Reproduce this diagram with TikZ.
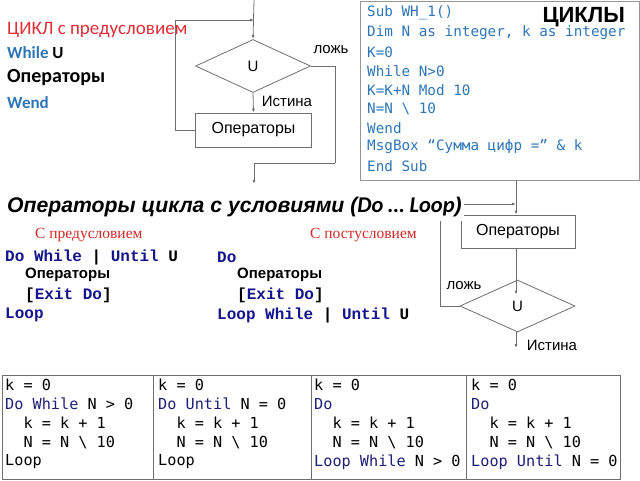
\documentclass[tikz,border=0pt]{standalone}
\usepackage{fontspec}
\usetikzlibrary{shapes.geometric,arrows.meta}
\newfontfamily\arialf{Liberation Sans}
\newfontfamily\calf{Carlito}
\newfontfamily\timesf{Liberation Serif}
\newfontfamily\courf{Liberation Mono}
\newfontfamily\consf{DejaVu Sans Mono}
\definecolor{codeblue}{RGB}{46,117,182}
\definecolor{navy}{RGB}{20,20,140}
\definecolor{tnavy}{RGB}{30,30,120}
\definecolor{redh}{RGB}{225,45,55}
\definecolor{redt}{RGB}{210,40,40}
\definecolor{linegray}{RGB}{110,110,110}
\definecolor{boxgray}{RGB}{150,150,150}
\begin{document}
\begin{tikzpicture}[x=1pt,y=-1pt,
  fl/.style={draw=linegray,line width=0.8pt},
  arr/.style={fl,-{Latex[length=4pt,width=3pt]}},
  opbox/.style={draw=linegray,line width=0.8pt,minimum width=116pt,minimum height=34pt,inner sep=0pt,
     font=\arialf\fontsize{16}{19}\selectfont},
  cond/.style={diamond,draw=linegray,line width=0.8pt,minimum width=115pt,minimum height=53pt,inner sep=0pt,
     font=\arialf\fontsize{15}{18}\selectfont},
  lbl/.style={inner sep=0pt,font=\arialf\fontsize{15}{18}\selectfont},
  lt/.style={anchor=west,inner sep=0pt,font=\calf\bfseries\fontsize{17}{20}\selectfont},
  cb/.style={anchor=west,inner sep=0pt,text=codeblue,font=\consf\fontsize{14.3}{17}\selectfont},
  cr/.style={anchor=west,inner sep=0pt,text=navy,font=\courf\bfseries\fontsize{16}{18}\selectfont},
  ops/.style={anchor=west,inner sep=0pt,font=\arialf\bfseries\fontsize{15}{18}\selectfont},
  tb/.style={anchor=west,inner sep=0pt,font=\consf\fontsize{15.2}{18}\selectfont},
  cell/.style={draw=linegray,line width=0.8pt,inner sep=0pt},
  redsub/.style={anchor=west,inner sep=0pt,text=redt,font=\timesf\fontsize{15.5}{18}\selectfont}
]
\useasboundingbox (0,0) rectangle (640,480);

% ---------- left text ----------
\node[anchor=west,inner sep=0pt,text=redh,font=\calf\fontsize{19}{22}\selectfont] (h1) at (7,30) {ЦИКЛ с предусловием};
\node[lt] (w1) at (7,53) {\textcolor{codeblue}{While} U};
\node[lt,font=\calf\bfseries\fontsize{20}{22}\selectfont] (w2) at (7,78) {Операторы};
\node[lt,text=codeblue] (w3) at (7,103) {Wend};

% ---------- flowchart 1 ----------
\coordinate (top1) at (254,0);
\node[cond] (d1) at (253,66) {U};
\node[opbox] (b1) at (253.5,130) {Операторы};
\coordinate (lb1) at (175,20);
\coordinate (in1) at (254,20);
\coordinate (rt1) at (335,163);
\coordinate (out1) at (254,184);
\draw[arr] (top1) -- (d1.north);
\draw[arr] (b1.west) -| (lb1) -- (in1);
\draw[arr] (d1.south) -- (b1.north);
\draw[fl] (d1.east) -| (rt1);
\draw[arr] (rt1) -| (out1);
\node[lbl] (f1) at (331,50) {ложь};
\node[lbl] (t1) at (287,101) {Истина};

% ---------- code box ----------
\node[draw=boxgray,line width=0.8pt,minimum width=279pt,minimum height=179pt,inner sep=0pt,anchor=north west] (code) at (360,1) {};
\node[cb] (c1) at (367,13) {Sub WH\_1()};
\node[cb] (c2) at (367,33) {Dim N as integer, k as integer};
\node[cb] (c3) at (367,52) {K=0};
\node[cb] (c4) at (367,71) {While N>0};
\node[cb] (c5) at (367,90) {K=K+N Mod 10};
\node[cb] (c6) at (367,109) {N=N \textbackslash{} 10};
\node[cb] (c7) at (367,128) {Wend};
\node[cb] (c8) at (367,147) {MsgBox “Сумма цифр =” \& k};
\node[cb] (c9) at (367,166) {End Sub};
\node[anchor=east,inner sep=0pt,font=\arialf\bfseries\fontsize{22}{26}\selectfont] (cyc) at (625,17) {ЦИКЛЫ};

% ---------- flowchart 2 ----------
\coordinate (top2) at (516,180);
\node[opbox,minimum width=114pt,minimum height=33pt] (b2) at (518,231.5) {Операторы};
\node[cond,minimum width=115pt,minimum height=52pt] (d2) at (517.5,306) {U};
\coordinate (lb2) at (440,204);
\coordinate (in2) at (516,204);
\coordinate (out2) at (516,348);
\draw[arr] (top2) -- (b2.north -| top2);
\draw[arr] (d2.west) -- (440,306) -- (lb2) -- (in2);
\draw[arr] (b2.south -| top2) -- ([yshift=-15pt]d2.north -| top2);
\draw[arr] (d2.south -| top2) -- (out2);
\node[lbl] (f2) at (464,286) {ложь};
\node[lbl] (t2) at (552,345) {Истина};

% ---------- title ----------
\node[anchor=west,fill=white,inner xsep=2pt,inner ysep=4pt,font=\arialf\bfseries\itshape\fontsize{21.2}{24}\selectfont] (title) at (5,207)
  {Операторы цикла с условиями ({\calf\bfseries\itshape\fontsize{22.5}{24}\selectfont Do … Loop})};

\node[redsub] (s1) at (35,235) {С предусловием};
\node[redsub] (s2) at (310,235) {С постусловием};

\node[cr] (p1) at (5,257) {Do While \textcolor{black}{|} Until \textcolor{black}{U}};
\node[ops] (p2) at (25,275) {Операторы};
\node[cr] (p3) at (25,295) {\textcolor{black}{[}Exit Do\textcolor{black}{]}};
\node[cr] (p4) at (5,315) {Loop};
\node[cr] (q1) at (217,257) {Do};
\node[ops] (q2) at (237,275) {Операторы};
\node[cr] (q3) at (237,295) {\textcolor{black}{[}Exit Do\textcolor{black}{]}};
\node[cr] (q4) at (217,315) {Loop While \textcolor{black}{|} Until \textcolor{black}{U}};

% ---------- table ----------
\node[cell,minimum width=151pt,minimum height=104pt,anchor=north west] (t1c) at (2,375) {};
\node[cell,minimum width=158pt,minimum height=104pt,anchor=north west] (t2c) at (153,375) {};
\node[cell,minimum width=155pt,minimum height=104pt,anchor=north west] (t3c) at (311,375) {};
\node[cell,minimum width=154pt,minimum height=104pt,anchor=north west] (t4c) at (466,375) {};

\node[tb] (a1) at (5,385) {k = 0};
\node[tb] (a2) at (5,404) {\textcolor{tnavy}{Do While} N > 0};
\node[tb] (a3) at (5,423) {\ \ k = k + 1};
\node[tb] (a4) at (5,443) {\ \ N = N \textbackslash{} 10};
\node[tb] (a5) at (5,462) {Loop};

\node[tb] (b1t) at (158,385) {k = 0};
\node[tb] (b2t) at (158,404) {\textcolor{tnavy}{Do Until} N = 0};
\node[tb] (b3t) at (158,423) {\ \ k = k + 1};
\node[tb] (b4t) at (158,443) {\ \ N = N \textbackslash{} 10};
\node[tb] (b5t) at (158,462) {Loop};

\node[tb] (e1) at (314,385) {k = 0};
\node[tb] (e2) at (314,404) {\textcolor{tnavy}{Do}};
\node[tb] (e3) at (314,423) {\ \ k = k + 1};
\node[tb] (e4) at (314,443) {\ \ N = N \textbackslash{} 10};
\node[tb] (e5) at (314,462) {\textcolor{tnavy}{Loop While} N > 0};

\node[tb] (g1) at (471,385) {k = 0};
\node[tb] (g2) at (471,404) {\textcolor{tnavy}{Do}};
\node[tb] (g3) at (471,423) {\ \ k = k + 1};
\node[tb] (g4) at (471,443) {\ \ N = N \textbackslash{} 10};
\node[tb] (g5) at (471,462) {\textcolor{tnavy}{Loop Until} N = 0};
\end{tikzpicture}
\end{document}
